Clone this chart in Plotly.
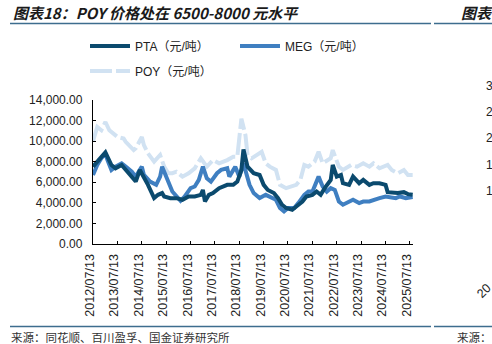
import plotly.graph_objects as go

# ---------------- data ----------------
pta_dates = ["2012-07-13","2013-01-15","2013-04-15","2013-06-15","2013-09-15","2013-11-15",
             "2014-03-15","2014-04-15","2014-06-15","2014-08-15","2014-10-15","2015-01-15",
             "2015-03-15","2015-05-15","2015-06-15","2015-09-15","2015-12-15","2016-03-15",
             "2016-06-15","2016-09-15","2016-12-15","2017-01-15","2017-02-15","2017-04-15",
             "2017-06-15","2017-09-15","2018-01-15","2018-04-15","2018-06-15","2018-08-15",
             "2018-09-15","2018-11-15","2019-02-15","2019-05-15","2019-07-15","2019-09-15",
             "2019-12-15","2020-02-15","2020-04-15","2020-06-15","2020-09-15","2020-11-15",
             "2021-02-15","2021-04-15","2021-07-15","2021-09-15","2021-11-15","2022-01-15",
             "2022-04-15","2022-05-15","2022-07-15","2022-09-15","2022-10-15","2023-01-15",
             "2023-03-15","2023-06-15","2023-08-15","2023-11-15","2024-01-15","2024-04-15",
             "2024-07-15","2024-08-15","2024-11-15","2025-01-15","2025-04-15","2025-06-15",
             "2025-08-25"]
pta_values = [7520, 8900, 7680, 7360, 7680, 7200,
              6230, 6070, 7200, 6550, 5750, 4460,
              4780, 4950, 4620, 4460, 4460, 4300,
              4620, 4620, 4780, 5260, 4130, 4780,
              4950, 5430, 5750, 5750, 6070, 7200,
              9200, 7520, 6880, 6710, 5750, 5260,
              4950, 4460, 3820, 3500, 3330, 3650,
              4130, 4620, 4780, 5100, 4780, 5430,
              6230, 7680, 6550, 6710, 5910, 5750,
              6550, 5910, 6230, 5750, 5910, 5910,
              5750, 5040, 4950, 4950, 5040, 4850,
              4780]

meg_dates = ["2012-07-13","2012-09-15","2012-11-15","2013-01-15","2013-02-15","2013-04-15",
             "2013-06-15","2013-09-15","2013-11-15","2014-02-15","2014-04-15","2014-07-15",
             "2014-08-15","2014-11-15","2015-02-15","2015-04-15","2015-05-15","2015-08-15",
             "2015-10-15","2016-02-15","2016-04-15","2016-07-15","2016-09-15","2016-11-15",
             "2017-01-15","2017-03-15","2017-05-15","2017-08-15","2017-10-15","2018-01-15",
             "2018-02-15","2018-05-15","2018-07-15","2018-09-15","2018-11-15","2018-12-15",
             "2019-02-15","2019-05-15","2019-08-15","2019-10-15","2020-01-15","2020-03-15",
             "2020-05-15","2020-07-15","2020-10-15","2020-12-15","2021-03-15","2021-05-15",
             "2021-07-15","2021-10-15","2021-12-15","2022-02-15","2022-04-15","2022-06-15",
             "2022-08-15","2022-10-15","2023-01-15","2023-03-15","2023-06-15","2023-08-15",
             "2023-11-15","2024-01-15","2024-04-15","2024-07-15","2024-09-15","2024-12-15",
             "2025-02-15","2025-05-15","2025-08-25"]
meg_values = [6710, 7680, 8330, 8810, 8160, 7200,
              7520, 7840, 7520, 7030, 6550, 7520,
              6710, 6070, 5750, 6550, 7520, 5910,
              5100, 4200, 4600, 5430, 5590, 6230,
              7520, 6390, 6070, 6880, 7200, 7360,
              6550, 7520, 6550, 7840, 6550, 5750,
              4950, 4460, 4780, 4620, 4300, 3500,
              3170, 3500, 3500, 3980, 4780, 5100,
              5100, 6550, 5590, 5100, 5430, 5260,
              4130, 3820, 4130, 4300, 3980, 4130,
              4130, 4300, 4460, 4620, 4520, 4460,
              4620, 4460, 4560]

poy_dates = ["2012-07-13","2012-09-15","2012-11-15","2013-01-15","2013-03-15","2013-07-15",
             "2013-10-15","2013-11-15","2014-03-15","2014-04-15","2014-07-15","2014-08-15",
             "2014-10-15","2015-01-15","2015-04-15","2015-06-15","2015-08-15","2015-10-15",
             "2015-12-15","2016-03-15","2016-06-15","2016-09-15","2016-12-15","2017-03-15",
             "2017-06-15","2017-09-15","2018-01-15","2018-04-15","2018-06-15","2018-08-15",
             "2018-10-15","2018-11-15","2019-01-15","2019-04-15","2019-06-15","2019-08-15",
             "2019-10-15","2020-01-15","2020-03-15","2020-06-15","2020-09-15","2020-11-15",
             "2021-01-15","2021-03-15","2021-05-15","2021-08-15","2021-10-15","2021-12-15",
             "2022-04-15","2022-05-15","2022-08-15","2022-10-15","2023-02-15","2023-05-15",
             "2023-08-15","2023-11-15","2024-01-15","2024-04-15","2024-08-15","2024-10-15",
             "2025-01-15","2025-04-15","2025-06-15","2025-08-25"]
poy_values = [10000, 11380, 11060, 11860, 11060, 10410,
              10260, 9930, 9130, 9300, 10410, 9610,
              8810, 8000, 8650, 7520, 6880, 6880,
              7030, 6550, 6880, 7360, 8330, 7520,
              8160, 7840, 8160, 8480, 8480, 12190,
              10580, 8650, 8330, 8650, 8970, 7840,
              7520, 7200, 5750, 5430, 5590, 5750,
              6230, 7680, 7520, 8000, 8970, 7840,
              8330, 9130, 7520, 7200, 7680, 7520,
              7840, 7520, 7840, 7360, 7680, 7200,
              6880, 7200, 6710, 6710]

tick_years = list(range(2012, 2026))
y_ticks = [0, 2000, 4000, 6000, 8000, 10000, 12000, 14000]

# ---------------- styling ----------------
C_PTA = "#0b4a6e"
C_MEG = "#3f7fc1"
C_POY = "#d1e2f2"
LAT = "Liberation Sans, Arial, Noto Sans CJK SC, sans-serif"
CJK = "Noto Sans CJK SC, sans-serif"

W, H = 492, 344
L, R, T, B = 93, 79, 100, 100
PW, PH = W - L - R, H - T - B


def px(x):
    return (x - L) / PW


def py(y):
    return (H - B - y) / PH


fig = go.Figure()
fig.add_trace(go.Scatter(x=poy_dates, y=poy_values, mode="lines", name="POY（元/吨）",
                         line=dict(color=C_POY, width=4, dash="22px,4px"),
                         legend="legend2"))
fig.add_trace(go.Scatter(x=meg_dates, y=meg_values, mode="lines", name="MEG（元/吨）",
                         line=dict(color=C_MEG, width=4), legendrank=2))
fig.add_trace(go.Scatter(x=pta_dates, y=pta_values, mode="lines", name="PTA（元/吨）",
                         line=dict(color=C_PTA, width=4), legendrank=1))

tickvals = [f"{y}-07-13" for y in tick_years]
ticktext = [f"{y}/07/13" for y in tick_years]

fig.update_layout(
    width=W, height=H, autosize=False,
    margin=dict(l=L, r=R, t=T, b=B, pad=0, autoexpand=False),
    paper_bgcolor="white", plot_bgcolor="white",
    showlegend=True,
    legend=dict(orientation="h", x=px(85), xanchor="left", y=py(46), yanchor="middle",
                font=dict(family=LAT, size=12, color="#222"), itemwidth=40,
                entrywidth=95, bgcolor="rgba(0,0,0,0)", traceorder="normal"),
    legend2=dict(orientation="h", x=px(85), xanchor="left", y=py(71), yanchor="middle",
                 font=dict(family=LAT, size=12, color="#222"), itemwidth=40,
                 bgcolor="rgba(0,0,0,0)"),
    xaxis=dict(type="date", range=["2012-07-13", "2025-08-30"], automargin=False,
               tickvals=tickvals, ticktext=ticktext, tickangle=-90,
               ticks="inside", ticklen=3, tickcolor="#000", tickwidth=1,
               showline=True, linecolor="#000", linewidth=1.3, showgrid=False,
               zeroline=False, ticklabelstandoff=4, ticklabelshift=-3,
               tickfont=dict(family=LAT, size=12.5, color="#222")),
    yaxis=dict(range=[0, 14000], tickvals=y_ticks, tickformat=",.2f", automargin=False,
               ticks="inside", ticklen=3, tickcolor="#000", tickwidth=1,
               showline=True, linecolor="#000", linewidth=1.3, showgrid=False,
               zeroline=False, ticklabelstandoff=7,
               tickfont=dict(family=LAT, size=12, color="#222")),
)

# header / footer texts
ann = [
    dict(text="<b><i>图表18：POY 价格处在 6500-8000 元水平</i></b>", x=px(11), y=py(12),
         xanchor="left", yanchor="middle", font=dict(family=CJK, size=15, color="#1a1a1a")),
    dict(text="<b><i>图表</i></b>", x=px(459), y=py(12),
         xanchor="left", yanchor="middle", font=dict(family=CJK, size=15, color="#1a1a1a")),
    dict(text="来源：同花顺、百川盈孚、国金证券研究所", x=px(9), y=py(336.5),
         xanchor="left", yanchor="middle", font=dict(family=CJK, size=11.5, color="#333")),
    dict(text="来源：", x=px(455), y=py(336.5),
         xanchor="left", yanchor="middle", font=dict(family=CJK, size=11.5, color="#333")),
    dict(text="20", x=px(484), y=py(291), textangle=-45,
         xanchor="center", yanchor="middle", font=dict(family=LAT, size=12.5, color="#222")),
]
for lab, yy in zip(["3", "2", "2", "1", "1"], [86, 112, 138, 165, 191]):
    ann.append(dict(text=lab, x=px(484), y=py(yy), xanchor="left", yanchor="middle",
                    font=dict(family=LAT, size=12, color="#222")))
for a in ann:
    a.update(xref="paper", yref="paper", showarrow=False)
fig.update_layout(annotations=ann)

# separator rules
rule = "#3d6d8e"
shapes = []
for yy in (23.5, 326.5):
    shapes.append(dict(type="line", xref="paper", yref="paper", x0=px(10), x1=px(431),
                       y0=py(yy), y1=py(yy), line=dict(color=rule, width=1.6)))
    shapes.append(dict(type="line", xref="paper", yref="paper", x0=px(434), x1=px(492),
                       y0=py(yy), y1=py(yy), line=dict(color=rule, width=1.6)))
fig.update_layout(shapes=shapes)

fig.write_html("out.html")
